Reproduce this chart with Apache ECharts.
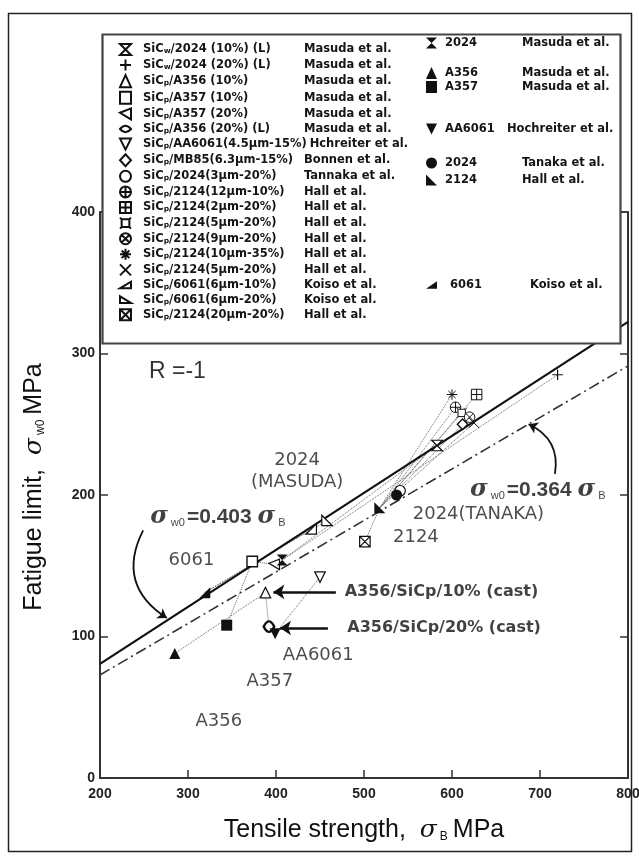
<!DOCTYPE html>
<html>
<head>
<meta charset="utf-8">
<script src="https://cdn.jsdelivr.net/npm/echarts/dist/echarts.min.js"></script>
<style>
  html, body { margin: 0; padding: 0; background: #fff; }
  #chart { width: 639px; height: 858px; }
</style>
</head>
<body>
<div id="chart"></div>
<script>
// ---- axis ticks ----
const xTicks = [200, 300, 400, 500, 600, 700, 800];
const yTicks = [0, 100, 200, 300, 400];

// ---- composites (open symbols): label, source, [tensile strength, fatigue limit] in MPa ----
const compositeLabels = [
  'SiCw/2024 (10%) (L)',
  'SiCw/2024 (20%) (L)',
  'SiCp/A356 (10%)',
  'SiCp/A357 (10%)',
  'SiCp/A357 (20%)',
  'SiCp/A356 (20%) (L)',
  'SiCp/AA6061(4.5µm-15%)',
  'SiCp/MB85(6.3µm-15%)',
  'SiCp/2024(3µm-20%)',
  'SiCp/2124(12µm-10%)',
  'SiCp/2124(2µm-20%)',
  'SiCp/2124(5µm-20%)',
  'SiCp/2124(9µm-20%)',
  'SiCp/2124(10µm-35%)',
  'SiCp/2124(5µm-20%)',
  'SiCp/6061(6µm-10%)',
  'SiCp/6061(6µm-20%)',
  'SiCp/2124(20µm-20%)'
];
const compositeAuthors = [
  'Masuda et al.', 'Masuda et al.', 'Masuda et al.', 'Masuda et al.', 'Masuda et al.', 'Masuda et al.',
  'Hchreiter et al.', 'Bonnen et al.', 'Tannaka et al.',
  'Hall et al.', 'Hall et al.', 'Hall et al.', 'Hall et al.', 'Hall et al.', 'Hall et al.',
  'Koiso et al.', 'Koiso et al.', 'Hall et al.'
];
const compositePoints = [
  [583, 235], [720, 285], [388, 131], [373, 153], [398, 151], [392, 107],
  [450, 142], [612, 250], [541, 203],
  [604, 262], [628, 271], [611, 258], [620, 255], [600, 271], [625, 251],
  [440, 176], [458, 182], [501, 167]
];

// ---- matrix alloys (filled symbols) ----
const matrixLabels = ['2024', 'A356', 'A357', 'AA6061', '2024', '2124', '6061'];
const matrixAuthors = ['Masuda et al.', 'Masuda et al.', 'Masuda et al.', 'Hochreiter et al.', 'Tanaka et al.', 'Hall et al.', 'Koiso et al.'];
const matrixPoints = [[407, 154], [285, 88], [344, 108], [399, 102], [537, 200], [518, 191], [319, 131]];

// ---- tie lines between a matrix alloy and its composites ----
const tieLines = [
  ['m0', 'c0'], ['m0', 'c1'],
  ['m1', 'c2'], ['c2', 'c5'],
  ['m2', 'c3'], ['c3', 'c4'],
  ['m3', 'c6'],
  ['m4', 'c8'],
  ['m5', 'c9'], ['m5', 'c10'], ['m5', 'c11'], ['m5', 'c12'], ['m5', 'c13'], ['m5', 'c14'], ['m5', 'c17'],
  ['m6', 'c15'], ['m6', 'c16']
];

// ---- fitted relations: sigma_w0 = k * sigma_B ----
const fitSlopes = [0.403, 0.364];
const fitRange = [200, 800];

// ---- annotations (data units) ----
const noteTexts = ['R =-1', '2024\n(MASUDA)', '6061', 'AA6061', 'A357', 'A356', '2124', '2024(TANAKA)'];
const notePoints = [[288, 287], [424, 217], [304, 154], [448, 87], [393, 68.5], [335, 40], [559, 170], [630, 186]];

const formulaCoefs = ['0.403', '0.364'];
const formulaPoints = [[257, 184.5], [620.5, 203.5]];

const castTexts = ['A356/SiCp/10% (cast)', 'A356/SiCp/20% (cast)'];
const castLabelPoints = [[478, 131.5], [481, 106]];
const castArrows = [[[468, 131.5], [397, 131.5]], [[459, 106], [404.5, 106]]];

const curvedArrows = [[[249, 175], [276, 113]], [[717, 215], [687, 250]]];
const curvedBends = [-0.45, -0.38];

// ---- marker shapes ----
const CIRCLE = 'M0,5A5,5,0,1,1,10,5A5,5,0,1,1,0,5Z';
const SQUARE = 'M0,0L10,0L10,10L0,10Z';
const compositeSymbols = [
  'path://M0,0L10,0L0,10L10,10Z',
  'path://M5,0L5,10M0,5L10,5',
  'triangle',
  'rect',
  'path://M0,4L10,0L10,10Z',
  'path://M0,5Q5,-1,10,5Q5,11,0,5Z',
  'path://M0,0L10,0L5,10Z',
  'diamond',
  'circle',
  'path://' + CIRCLE + 'M5,0L5,10M0,5L10,5',
  'path://' + SQUARE + 'M5,0L5,10M0,5L10,5',
  'path://M1.5,1.5L8.5,1.5L8.5,8.5L1.5,8.5ZM0,0L1.5,1.5M10,0L8.5,1.5M10,10L8.5,8.5M0,10L1.5,8.5',
  'path://' + CIRCLE + 'M1.5,1.5L8.5,8.5M8.5,1.5L1.5,8.5',
  'path://M5,0L5,10M0,5L10,5M1.5,1.5L8.5,8.5M8.5,1.5L1.5,8.5',
  'path://M0,0L10,10M10,0L0,10',
  'path://M0,10L10,10L10,4Z',
  'path://M0,4L0,10L10,10Z',
  'path://' + SQUARE + 'M0,0L10,10M10,0L0,10'
];
const compositeBorders = [1.2, 1.2, 1.2, 1.4, 1.2, 2.4, 1.2, 1.4, 1.2, 1, 1, 1, 1, 1, 1, 1.2, 1.2, 1.2];
const matrixSymbols = [
  'path://M0,0L10,0L0,10L10,10Z',
  'triangle',
  'rect',
  'path://M0,0L10,0L5,10Z',
  'circle',
  'path://M0,0L0,10L10,10Z',
  'path://M10,3L10,10L0,10Z'
];

// ---- layout ----
const LEG_FONT = '"DejaVu Sans", Verdana, sans-serif';
const LEG_SIZE = 11.5;
const col1Left = 119, col1Top = 43, col1Gap = 2.6;
const col1LabelX = 142, col1AuthorX = 303;
const col2Left = 426;
const col2Centers = [43, 73, 87, 129, 163, 180, 285];
const col2LabelX = [445, 445, 445, 445, 445, 445, 450];
const col2AuthorX = [522, 522, 522, 507, 522, 522, 530];

const ctx = document.createElement('canvas').getContext('2d');
function textW(str, size) {
  ctx.font = 'bold ' + size + 'px ' + LEG_FONT;
  return ctx.measureText(str).width;
}
function richLabel(label) {
  const m = label.match(/^SiC([wp])(.*)$/);
  if (!m) return { text: '{n|' + label + '}', w: textW(label, LEG_SIZE) };
  return {
    text: '{n|SiC}{sub|' + m[1] + '}{n|' + m[2] + '}',
    w: textW('SiC' + m[2], LEG_SIZE) + textW(m[1], 7.5)
  };
}
const baseRich = {
  n: { fontFamily: LEG_FONT, fontWeight: 'bold', fontSize: LEG_SIZE, color: '#151515', lineHeight: 12 },
  sub: { fontFamily: LEG_FONT, fontWeight: 'bold', fontSize: 7.5, color: '#151515', lineHeight: 12, padding: [4, 0, 0, 0] }
};

const ICON_W = 11;
function legendEntry(label, author, labelX, authorX, left) {
  const lead = labelX - (left + ICON_W + 5);
  const r = richLabel(label);
  const gap = Math.max(3, authorX - labelX - r.w);
  return { text: '{lead| }' + r.text + '{gap| }{n|' + author + '}', lead, gap };
}

const legends = [];
// first column: composites
{
  const rich = Object.assign({}, baseRich);
  const texts = {};
  compositeLabels.forEach((lab, i) => {
    const e = legendEntry(lab, compositeAuthors[i], col1LabelX, col1AuthorX, col1Left);
    rich['lead'] = { width: e.lead, fontSize: 2 };
    rich['g' + i] = { width: e.gap, fontSize: 2 };
    texts['c' + i] = e.text.replace('{gap|', '{g' + i + '|');
  });
  legends.push({
    data: compositeLabels.map((_, i) => 'c' + i),
    orient: 'vertical', left: col1Left, top: col1Top, padding: 0,
    itemWidth: ICON_W, itemHeight: 12, itemGap: col1Gap,
    selectedMode: false, z: 200,
    formatter: k => texts[k],
    textStyle: { rich }
  });
}
// second column: matrix alloys
matrixLabels.forEach((lab, i) => {
  const e = legendEntry(lab, matrixAuthors[i], col2LabelX[i], col2AuthorX[i], col2Left);
  const rich = Object.assign({}, baseRich, {
    lead: { width: e.lead, fontSize: 2 },
    gap: { width: e.gap, fontSize: 2 }
  });
  legends.push({
    data: ['m' + i], left: col2Left, top: col2Centers[i] - 6, padding: 0,
    itemWidth: ICON_W, itemHeight: 12, selectedMode: false, z: 200,
    formatter: () => e.text,
    textStyle: { rich }
  });
});

// ---- series ----
const series = [];
compositePoints.forEach((p, i) => series.push({
  name: 'c' + i, type: 'scatter', data: [p],
  symbol: compositeSymbols[i], symbolSize: 10.5,
  itemStyle: { color: '#fff', borderColor: '#111', borderWidth: compositeBorders[i], opacity: 1 },
  z: 4, silent: true
}));
matrixPoints.forEach((p, i) => series.push({
  name: 'm' + i, type: 'scatter', data: [p],
  symbol: matrixSymbols[i], symbolSize: 11,
  itemStyle: { color: '#111', opacity: 1 },
  z: 5, silent: true
}));

fitSlopes.forEach((k, i) => series.push({
  type: 'line', data: fitRange.map(x => [x, k * x]), symbol: 'none', silent: true, z: 3,
  lineStyle: i === 0 ? { color: '#111', width: 2.2 } : { color: '#333', width: 1.6, type: [11, 4, 2, 4] }
}));

const pointOf = key => (key[0] === 'c' ? compositePoints : matrixPoints)[+key.slice(1)];
series.push({
  type: 'lines', coordinateSystem: 'cartesian2d', silent: true, z: 2,
  symbol: 'none',
  lineStyle: { color: '#666', width: 1, type: 'dotted', opacity: 1 },
  data: tieLines.map(([a, b]) => ({ coords: [pointOf(a), pointOf(b)] }))
});

series.push({
  type: 'lines', coordinateSystem: 'cartesian2d', silent: true, z: 6,
  symbol: ['none', 'arrow'], symbolSize: 9,
  lineStyle: { color: '#111', width: 1.8, opacity: 1 },
  data: curvedArrows.map((c, i) => ({ coords: c, lineStyle: { curveness: curvedBends[i] } }))
});
series.push({
  type: 'lines', coordinateSystem: 'cartesian2d', silent: true, z: 6,
  symbol: ['none', 'arrow'], symbolSize: 11,
  lineStyle: { color: '#111', width: 2.6, opacity: 1 },
  data: castArrows.map(c => ({ coords: c }))
});

// text-only scatter series (no visible symbol)
const plainText = { textBorderWidth: 0, textShadowBlur: 0 };
series.push({
  type: 'scatter', symbol: 'circle', symbolSize: 0, silent: true, z: 7,
  data: notePoints.map((p, i) => ({
    value: p,
    label: i === 0
      ? { formatter: noteTexts[i], fontFamily: '"Liberation Sans", Arial, sans-serif', fontSize: 23, color: '#000' }
      : { formatter: noteTexts[i] }
  })),
  label: Object.assign({
    show: true, position: 'inside', align: 'center', verticalAlign: 'middle',
    fontFamily: LEG_FONT, fontSize: 18, color: '#1e1e1e', lineHeight: 22
  }, plainText)
});

const formulaRich = {
  s: { fontFamily: '"DejaVu Serif", serif', fontStyle: 'italic', fontWeight: 'bold', fontSize: 24, color: '#111', lineHeight: 28 },
  b: { fontFamily: '"Liberation Sans", Arial, sans-serif', fontSize: 11, color: '#111', lineHeight: 28, padding: [12, 2, 0, 3] },
  t: { fontFamily: '"Liberation Sans", Arial, sans-serif', fontWeight: 'bold', fontSize: 21, color: '#111', lineHeight: 28 }
};
series.push({
  type: 'scatter', symbol: 'circle', symbolSize: 0, silent: true, z: 7,
  data: formulaPoints.map((p, i) => ({
    value: p,
    label: { formatter: '{s|σ}{b|w0}{t|=' + formulaCoefs[i] + ' }{s|σ}{b|B}' }
  })),
  label: Object.assign({ show: true, position: 'right', distance: 0, rich: formulaRich }, plainText)
});
series.push({
  type: 'scatter', symbol: 'circle', symbolSize: 0, silent: true, z: 7,
  data: castLabelPoints.map((p, i) => ({ value: p, label: { formatter: castTexts[i] } })),
  label: Object.assign({
    show: true, position: 'right', distance: 0,
    fontFamily: LEG_FONT, fontWeight: 'bold', fontSize: 16, color: '#111'
  }, plainText)
});

const axisFont = { fontFamily: '"Liberation Sans", Arial, sans-serif', fontWeight: 'bold', fontSize: 14, color: '#222' };
const titleRich = {
  t: { fontFamily: '"Liberation Sans", Arial, sans-serif', fontSize: 25, color: '#111', lineHeight: 30 },
  s: { fontFamily: '"DejaVu Serif", serif', fontStyle: 'italic', fontSize: 25, color: '#111', lineHeight: 30 },
  b: { fontFamily: '"Liberation Sans", Arial, sans-serif', fontSize: 12, color: '#111', lineHeight: 30, padding: [13, 5, 0, 3] }
};

const option = {
  animation: false,
  backgroundColor: '#fff',
  grid: { left: 100, right: 11, top: 212, bottom: 80, show: true, borderColor: '#333', borderWidth: 1.5, outerBoundsMode: 'none', containLabel: false },
  legend: legends,
  xAxis: {
    type: 'value', min: xTicks[0], max: xTicks[xTicks.length - 1], interval: xTicks[1] - xTicks[0],
    axisLine: { show: true, lineStyle: { color: '#333', width: 2 } },
    axisTick: { show: true, inside: true, length: 8, lineStyle: { color: '#333', width: 1.5 } },
    axisLabel: Object.assign({ margin: 9 }, axisFont),
    splitLine: { show: false },
    name: '{t|Tensile strength,  }{s|σ}{b|B}{t|MPa}',
    nameLocation: 'middle', nameGap: 37,
    nameTextStyle: { rich: titleRich }
  },
  yAxis: [{
    type: 'value', min: yTicks[0], max: yTicks[yTicks.length - 1], interval: yTicks[1] - yTicks[0],
    axisLine: { show: true, lineStyle: { color: '#333', width: 2 } },
    axisTick: { show: true, inside: true, length: 8, lineStyle: { color: '#333', width: 1.5 } },
    axisLabel: Object.assign({ margin: 5 }, axisFont),
    splitLine: { show: false },
    name: '{t|Fatigue limit,  }{s|σ}{b|w0}{t|MPa}',
    nameLocation: 'middle', nameGap: 51,
    nameTextStyle: { rich: titleRich, padding: [0, 0, 0, 16] }
  }, {
    type: 'value', position: 'right', min: yTicks[0], max: yTicks[yTicks.length - 1], interval: yTicks[1] - yTicks[0],
    axisLine: { show: true, lineStyle: { color: '#333', width: 2 } },
    axisTick: { show: true, inside: true, length: 8, lineStyle: { color: '#333', width: 1.5 } },
    axisLabel: { show: false },
    splitLine: { show: false }
  }],
  graphic: [
    { type: 'rect', z: 0, shape: { x: 8.5, y: 13.5, width: 623, height: 838 }, style: { fill: 'none', stroke: '#222', lineWidth: 1.5 } },
    { type: 'rect', z: 100, shape: { x: 102.5, y: 34.5, width: 518, height: 309 }, style: { fill: '#fff', stroke: '#444', lineWidth: 2.2 } }
  ],
  series
};

const chart = echarts.init(document.getElementById('chart'), null, { renderer: 'canvas' });
chart.setOption(option);
</script>
</body>
</html>
